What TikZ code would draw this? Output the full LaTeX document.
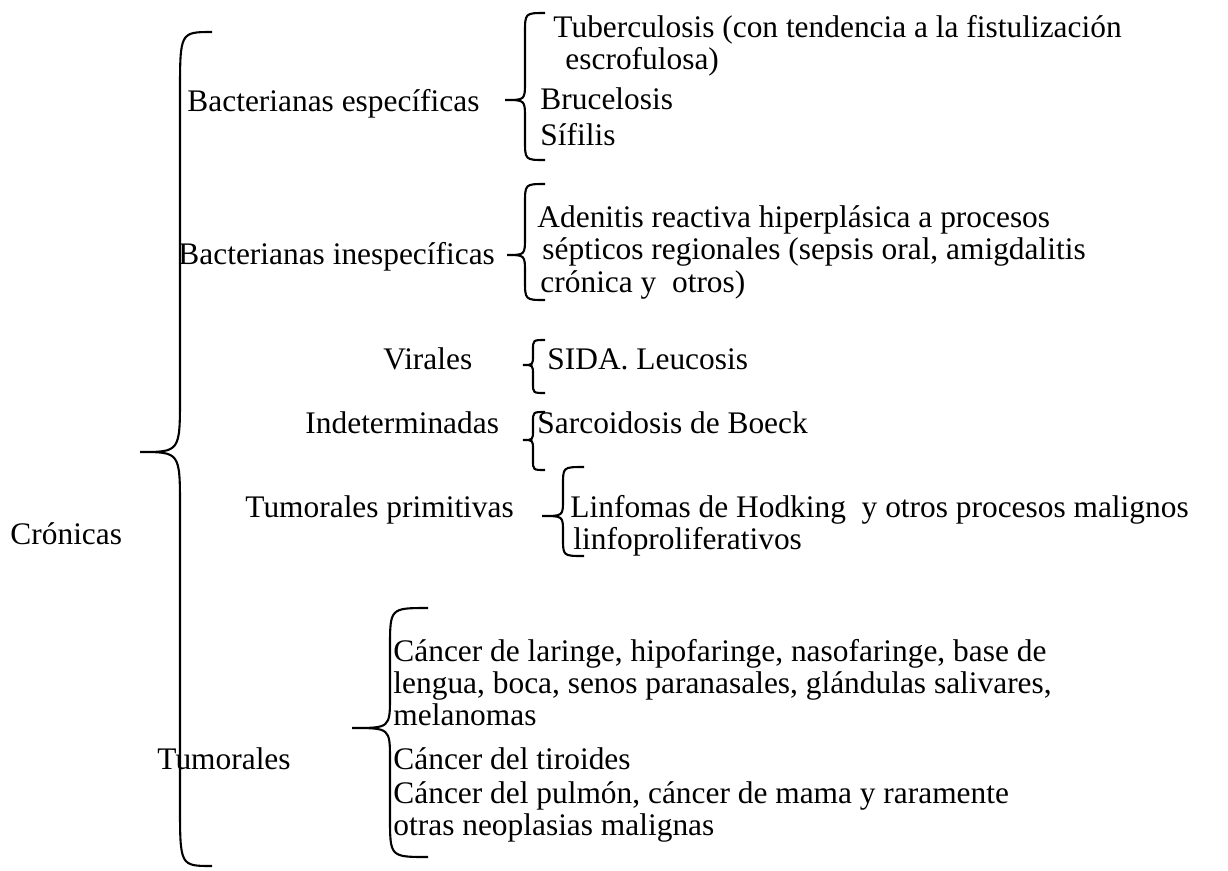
\documentclass[tikz,border=0pt]{standalone}
\usepackage{fontspec}
\setmainfont{Liberation Serif}
\usetikzlibrary{positioning}
\tikzset{txt/.style={anchor=base west, inner sep=0pt, font=\fontsize{13.5}{16}\selectfont}}
\tikzset{llave/.style={line width=0.9pt}}
% brace: x line, x ends, x tip, y top, y tip, y bottom, end radius, tip radius
\newcommand{\drawllave}[8]{%
  \draw[llave] (#2,#4) .. controls (#1,#4) .. (#1,#4+#7) -- (#1,#5-#8)
    .. controls (#1,#5) .. (#3,#5) .. controls (#1,#5) .. (#1,#5+#8)
    -- (#1,#6-#7) .. controls (#1,#6) .. (#2,#6);}

\begin{document}
\begin{tikzpicture}[x=0.43pt,y=-0.43pt]
		\useasboundingbox (0,0) rectangle (1228,870);
		
		\node(cron) [txt] at (10,544) {Crónicas};
		\drawllave{180}{212}{140}{32}{452}{866}{62}{56}
		
		% bacterianas especificas
		\node(bes) [txt] at (187,111) {Bacterianas específicas};
		\drawllave{525}{545}{505}{13}{100}{160}{20}{18}
		\node(tub) [txt] at (553,37) {Tuberculosis (con tendencia a la fistulización};
		\node(tubb) [txt] at (565,69) {escrofulosa)};
		\node(bru) [txt] at (540,109) {Brucelosis};
		\node(sif) [txt] at (540,145) {Sífilis};
		
		% bacterianas inespecificas
		\node(bin) [txt] at (178,264) {Bacterianas inespecíficas};
		\drawllave{525}{545}{507}{184}{255}{300}{20}{18}
		\node(ade) [txt] at (537,227) {Adenitis reactiva hiperplásica a procesos};
		\node(adeb) [txt] at (542,259) {sépticos regionales (sepsis oral, amigdalitis};
		\node(adec) [txt] at (540,292) {crónica y \ otros)};
		
		% virales
		\node(vir) [txt] at (383,369) {Virales};
		\drawllave{533}{545}{523}{340}{365}{393}{10}{10}
		\node(sida) [txt] at (547,369) {SIDA. Leucosis};
		
		% indeterminadas
		\node(ind) [txt] at (305,433) {Indeterminadas};
		\drawllave{533}{545}{523}{412}{440}{470}{10}{10}
		\node(sarc) [txt] at (537,433) {Sarcoidosis de Boeck};
		
		% tumorales primitivas
		\node(tup) [txt] at (245,517) {Tumorales primitivas};
		\drawllave{563}{584}{542}{467}{516}{556}{18}{16}
		\node(lin) [txt] at (570,517) {Linfomas de Hodking \ y otros procesos malignos};
		\node(linb) [txt] at (573,549) {linfoproliferativos};
		
		% tumorales
		\node(tum) [txt] at (157,769) {Tumorales};
		\drawllave{390}{428}{352}{608}{728}{857}{40}{32}
		\node(ca) [txt] at (393,661) {Cáncer de laringe, hipofaringe, nasofaringe, base de};
		\node(cb) [txt] at (393,693) {lengua, boca, senos paranasales, glándulas salivares,};
		\node(cc) [txt] at (393,725) {melanomas};
		\node(cd) [txt] at (393,769) {Cáncer del tiroides};
		\node(ce) [txt] at (393,803) {Cáncer del pulmón, cáncer de mama y raramente};
		\node(cf) [txt] at (393,835) {otras neoplasias malignas};
	\end{tikzpicture}
\end{document}
